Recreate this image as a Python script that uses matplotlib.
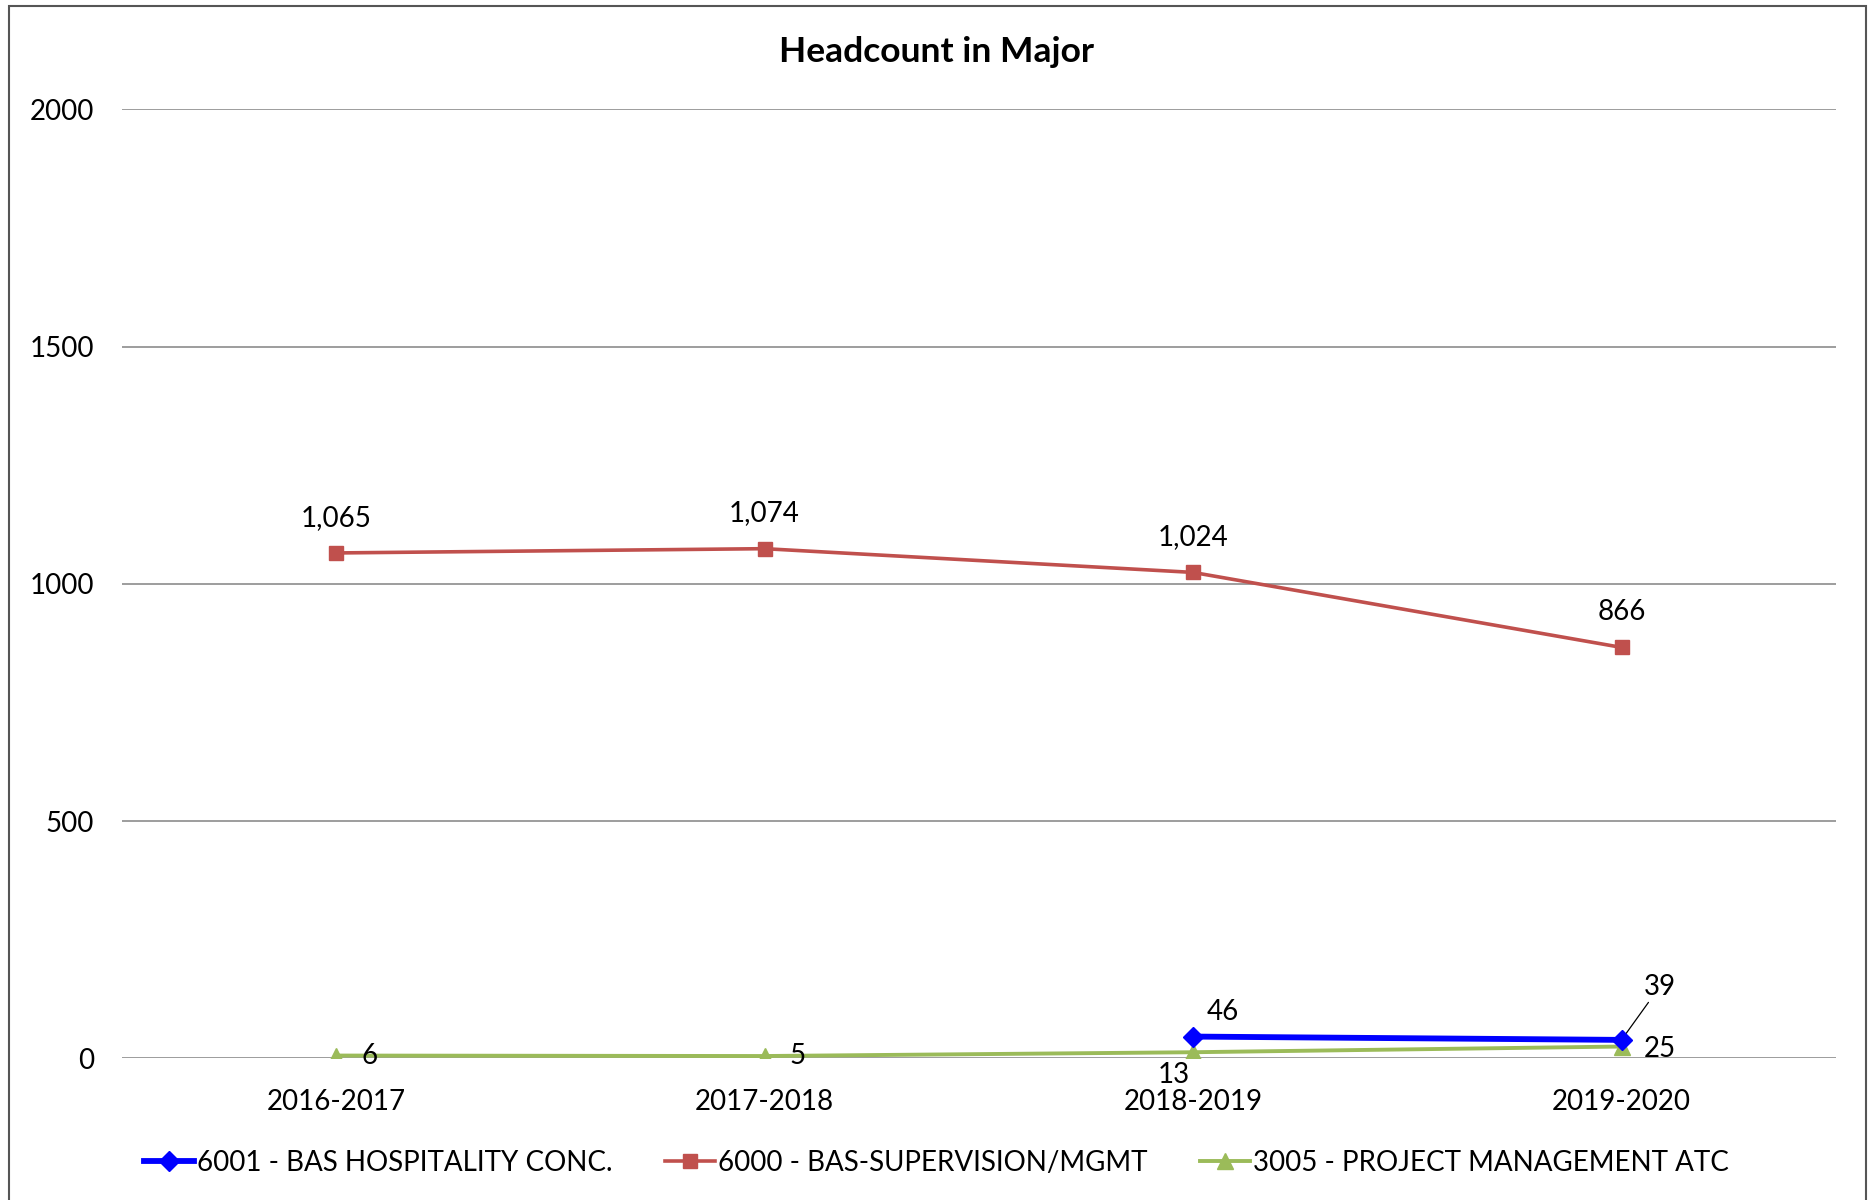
import numpy as np
import matplotlib.pyplot as plt
from matplotlib.patches import Rectangle

plt.rcParams['font.family'] = ['Lato', 'DejaVu Sans']

years = ["2016-2017", "2017-2018", "2018-2019", "2019-2020"]
hospitality = [None, None, 46, 39]
supervision = [1065, 1074, 1024, 866]
project_mgmt = [6, 5, 13, 25]

fig = plt.figure(figsize=(18.73, 12), dpi=100)
ax = fig.add_axes([0.0651, 0.118, 0.915, 0.791])

x = np.arange(len(years))

hx = [i for i, v in zip(x, hospitality) if v is not None]
hy = [v for v in hospitality if v is not None]

ax.plot(hx, hy, color="#0000FF", lw=4.2, marker="D", ms=10.5,
        label="6001 - BAS HOSPITALITY CONC.", zorder=4)
ax.plot(x, supervision, color="#C0504D", lw=2.6, marker="s", ms=10.5,
        label="6000 - BAS-SUPERVISION/MGMT", zorder=3)
ax.plot(x, project_mgmt, color="#9BBB59", lw=2.8, marker="^", ms=12,
        label="3005 - PROJECT MANAGEMENT ATC", zorder=3)

fs = 20
for i, v in enumerate(supervision):
    ax.annotate(f"{v:,}", (x[i], v), xytext=(0, 16), textcoords="offset points",
                ha="center", va="bottom", fontsize=fs)

ax.annotate("46", (hx[0], hy[0]), xytext=(10, 8), textcoords="offset points",
            ha="left", va="bottom", fontsize=fs)
ax.annotate("39", (hx[1], hy[1]), xytext=(16, 29), textcoords="offset points",
            ha="left", va="bottom", fontsize=fs,
            arrowprops=dict(arrowstyle="-", color="black", lw=0.9,
                            shrinkA=0, shrinkB=2))

ax.annotate(f"{project_mgmt[0]}", (x[0], project_mgmt[0]), xytext=(18, 0),
            textcoords="offset points", ha="left", va="center", fontsize=fs)
ax.annotate(f"{project_mgmt[1]}", (x[1], project_mgmt[1]), xytext=(18, 0),
            textcoords="offset points", ha="left", va="center", fontsize=fs)
ax.annotate(f"{project_mgmt[2]}", (x[2], project_mgmt[2]), xytext=(-14, -7),
            textcoords="offset points", ha="center", va="top", fontsize=fs)
ax.annotate(f"{project_mgmt[3]}", (x[3], project_mgmt[3]), xytext=(16, -2),
            textcoords="offset points", ha="left", va="center", fontsize=fs)

ax.set_xlim(-0.5, 3.5)
ax.set_ylim(0, 2000)
ax.set_yticks([0, 500, 1000, 1500, 2000])
ax.set_xticks(x)
ax.set_xticklabels(years)
ax.tick_params(axis="both", length=0, labelsize=fs)
ax.tick_params(axis="y", pad=20)
ax.tick_params(axis="x", pad=22)
ax.grid(axis="y", color="#8C8C8C", lw=1.2)
ax.set_axisbelow(True)
for s in ax.spines.values():
    s.set_visible(False)

fig.text(0.5, 0.957, "Headcount in Major", ha="center", va="center",
         fontsize=25.5, fontweight="bold")

fig.legend(loc="center", bbox_to_anchor=(0.5, 0.031), ncol=3, frameon=False,
           fontsize=fs, handlelength=1.8, handletextpad=0.1, columnspacing=1.9)

fig.patches.append(Rectangle((0.005, -0.01), 0.991, 1.005, transform=fig.transFigure,
                             fill=False, edgecolor="#555555", lw=1.5))

fig.savefig("out.png", dpi=100)
